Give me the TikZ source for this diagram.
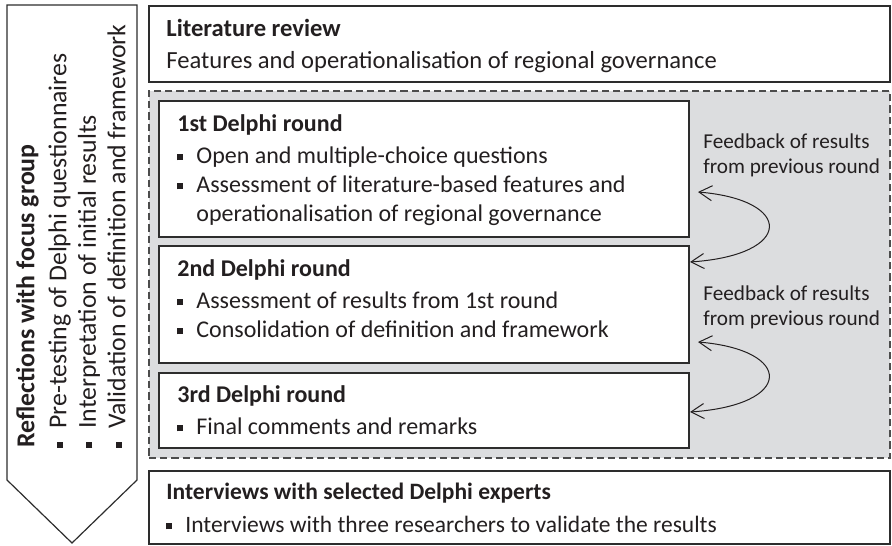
\documentclass[tikz,border=0pt]{standalone}
\usepackage{fontspec}
\setmainfont{Carlito}
\usepackage{xcolor}
\usetikzlibrary{arrows.meta,positioning}
\definecolor{roundgray}{RGB}{220,221,223}
\definecolor{linegray}{RGB}{45,45,45}
\definecolor{textgray}{RGB}{35,31,32}
\newcommand{\sqb}{\raisebox{1.75pt}{\rule{3pt}{3pt}}\hspace{6.5pt}}
\def\pxu{0.5pt}
\tikzset{
  framebox/.style={draw=linegray, line width=0.6pt, rectangle, inner sep=0pt, outer sep=0pt, anchor=north west},
  boxtext/.style={align=left, inner sep=0pt, text=textgray, font=\fontsize{12}{14.5}\selectfont},
  fbtext/.style={align=left, inner sep=0pt, text=textgray, font=\fontsize{10.6}{12.5}\selectfont, anchor=north west},
  fbarrow/.style={<->, >={Straight Barb[length=6.5pt, width=7.5pt]}, line width=0.5pt, draw=textgray}
}

\begin{document}
\begin{tikzpicture}[x=0.5pt, y=-0.5pt]
        \useasboundingbox (0,0) rectangle (892,545);

        % Arrow with the focus group reflections
        \draw[draw=linegray, line width=0.6pt, fill=white] (7,5) -- (137,5) -- (137,480) -- (72,543) -- (7,480) -- cycle;
        \node[boxtext, font=\fontsize{12.9}{14.75}\selectfont, rotate=90, anchor=north west] (reflect) at (13.4,448) {\strut\textbf{Reflections with focus group}\\[1.2pt]
            \sqb Pre-testing of Delphi questionnaires\\
            \sqb Interpretation of initial results\\
            \sqb Validation of definition and framework};

        % Outer boxes
        \node[framebox, minimum width=741*\pxu, minimum height=76*\pxu] (litbox) at (149,6) {};
        \node[framebox, draw=black!70, dash pattern=on 3.6pt off 2pt, fill=roundgray, minimum width=741*\pxu, minimum height=367*\pxu] (delphi) at (149,91) {};
        \node[framebox, minimum width=741*\pxu, minimum height=73*\pxu] (intbox) at (149,471) {};

        % Delphi rounds
        \node[framebox, fill=white, minimum width=530*\pxu, minimum height=136*\pxu] (round1) at (159,101) {};
        \node[framebox, fill=white, minimum width=530*\pxu, minimum height=117*\pxu] (round2) at (159,246) {};
        \node[framebox, fill=white, minimum width=530*\pxu, minimum height=75*\pxu] (round3) at (159,373) {};

        % Texts in the boxes
        \node[boxtext, font=\fontsize{12.3}{14.5}\selectfont, below right=5.1pt and 8.5pt of litbox.north west] (littext) {\strut\textbf{Literature review}\\[1.5pt]
            Features and operationalisation of regional governance};
        \node[boxtext, below right=5.1pt and 9pt of round1.north west] (r1text) {\strut\textbf{1st Delphi round}\\[1.5pt]
            \sqb Open and multiple-choice questions\\
            \sqb Assessment of literature-based features and\\
            \hspace*{9.5pt}operationalisation of regional governance};
        \node[boxtext, below right=5.1pt and 9pt of round2.north west] (r2text) {\strut\textbf{2nd Delphi round}\\[1.5pt]
            \sqb Assessment of results from 1st round\\
            \sqb Consolidation of definition and framework};
        \node[boxtext, below right=4.6pt and 9pt of round3.north west] (r3text) {\strut\textbf{3rd Delphi round}\\[1.5pt]
            \sqb Final comments and remarks};
        \node[boxtext, font=\fontsize{11.75}{14.5}\selectfont, below right=4.1pt and 8.5pt of intbox.north west] (inttext) {\strut\textbf{Interviews with selected Delphi experts}\\[2pt]
            \sqb Interviews with three researchers to validate the results};

        % Feedback between the rounds
        \node[fbtext] (fb1) at (703,130.5) {\strut Feedback of results\\from previous round};
        \node[fbtext] (fb2) at (703,282.5) {\strut Feedback of results\\from previous round};
        \coordinate (fb1top) at (698,192);
        \coordinate (fb1bot) at (690,262);
        \coordinate (fb2top) at (698,342);
        \coordinate (fb2bot) at (690,412);
        \draw[fbarrow] (fb1top) .. controls +(96,8) and +(104,-7) .. (fb1bot);
        \draw[fbarrow] (fb2top) .. controls +(96,8) and +(104,-7) .. (fb2bot);
\end{tikzpicture}
\end{document}
